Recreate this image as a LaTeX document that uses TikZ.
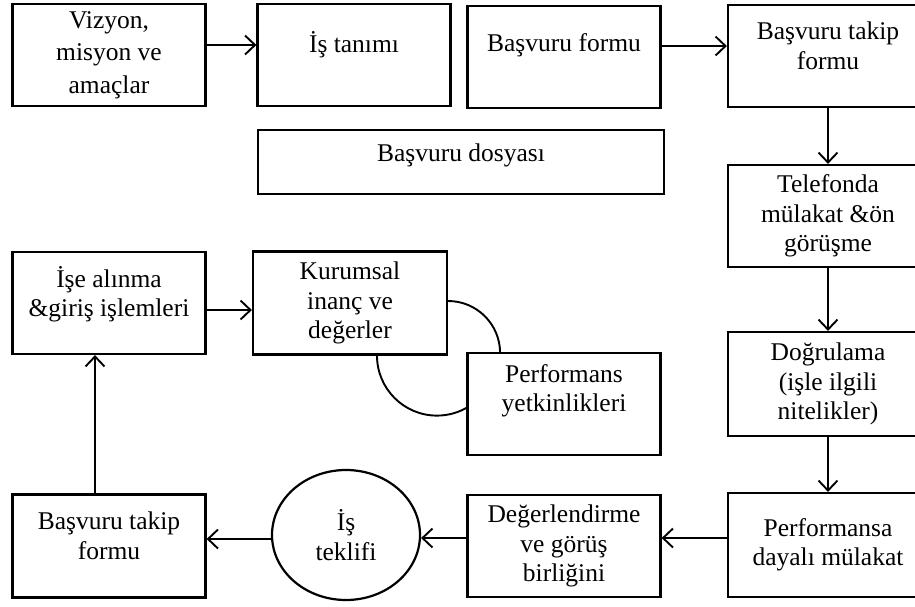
\documentclass[tikz,border=0pt]{standalone}
\usepackage{fontspec}
\setmainfont{Liberation Serif}
\usepackage{tikz}
\usetikzlibrary{arrows.meta, positioning, shapes.geometric, calc}

\begin{document}
\begin{tikzpicture}[
  x=1pt, y=-1pt,
  >={Straight Barb[length=10pt, width=19pt]}, line width=1.9pt,
  box/.style = {draw, rectangle, line width=2.2pt, minimum width=193pt, minimum height=102pt,
                inner sep=0pt, align=center, font=\fontsize{25.5}{29.5}\selectfont},
  wide/.style = {box, minimum width=200pt},
  txt/.style  = {inner sep=0pt, align=center, font=\fontsize{25.5}{29.5}\selectfont},
  oval/.style = {draw, ellipse, line width=2.2pt, minimum width=148pt, minimum height=130pt,
                 inner sep=0pt, align=center, font=\fontsize{25.5}{29.5}\selectfont},
]
  \useasboundingbox (0,0) rectangle (915,606);

  % top row
  \node[box] (viz)    at (109,55)  {Vizyon,\\[3pt] misyon ve\\[3pt] amaçlar};
  \node[box] (tanim)  at (354,55)  {};
  \node[txt] (tanimT) at ([yshift=10pt]tanim.center) {İş tanımı};
  \node[box] (form)   at (564,57)  {};
  \node[txt] (formT)  at ([yshift=12pt]form.center) {Başvuru formu};
  \node[wide] (takip1) at (828,56) {};
  \node[txt] (takip1T) at ([yshift=10pt]takip1.center) {Başvuru takip\\formu};

  \node[box, minimum width=406pt, minimum height=64pt] (dosya) at (461,162) {};
  \node[txt] (dosyaT) at ([yshift=7pt]dosya.center) {Başvuru dosyası};

  % right column
  \node[wide] (tel)   at (828,216) {Telefonda\\mülakat \&ön\\görüşme};
  \node[wide, minimum height=104pt] (dogru) at (828,384) {Doğrulama\\(işle ilgili\\nitelikler)};
  \node[wide, minimum height=104pt] (perfm) at (828,545) {Performansa\\dayalı mülakat};

  % middle
  \node[box] (ise)    at (109,303) {};
  \node[txt] (iseT)   at ([yshift=9pt]ise.center) {İşe alınma\\\&giriş işlemleri};
  \node[box, minimum width=194pt, minimum height=103pt] (kurum) at (350,303) {Kurumsal\\inanç ve\\değerler};
  \node[box] (perf)   at (564,404) {};
  \node[txt] (perfT)  at ([yshift=13pt]perf.center) {Performans\\yetkinlikleri};

  % bottom row
  \node[box] (deger)  at (564,546) {Değerlendirme\\ve görüş\\birliğini};
  \node[oval] (teklif) at (346,535) {İş\\teklifi};
  \node[box, minimum height=103pt] (takip2) at (109,546) {};
  \node[txt] (takip2T) at ([yshift=10pt]takip2.center) {Başvuru takip\\formu};

  % arcs between Kurumsal and Performans
  \draw ([yshift=2pt]kurum.east) arc[start angle=-90, end angle=0, radius=52];
  \draw ([xshift=27pt]kurum.south) arc[start angle=180, end angle=59, radius=60];

  % arrows
  \draw[->] ([yshift=10pt]viz.east)   -- ([yshift=10pt]tanim.west);
  \draw[->] ([yshift=11pt]form.east)  -- ([yshift=11pt]form.east -| takip1.west);
  \draw[->] (takip1) -- (tel);
  \draw[->] (tel)    -- (dogru);
  \draw[->] (dogru)  -- (perfm);
  \draw[->] ([yshift=7pt]perfm.west)  -- ([yshift=7pt]perfm.west -| deger.east);
  \draw[->] ([yshift=8pt]deger.west)  -- ([yshift=8pt]deger.west -| teklif.east);
  \draw[->] ([yshift=-4pt]teklif.west) -- ([yshift=-4pt]teklif.west -| takip2.east);
  \draw[->] ([xshift=-14pt]takip2.north) -- ([xshift=-14pt]ise.south);
  \draw[->] ([yshift=-7pt]ise.east)   -- ([yshift=-7pt]kurum.west);
\end{tikzpicture}
\end{document}
